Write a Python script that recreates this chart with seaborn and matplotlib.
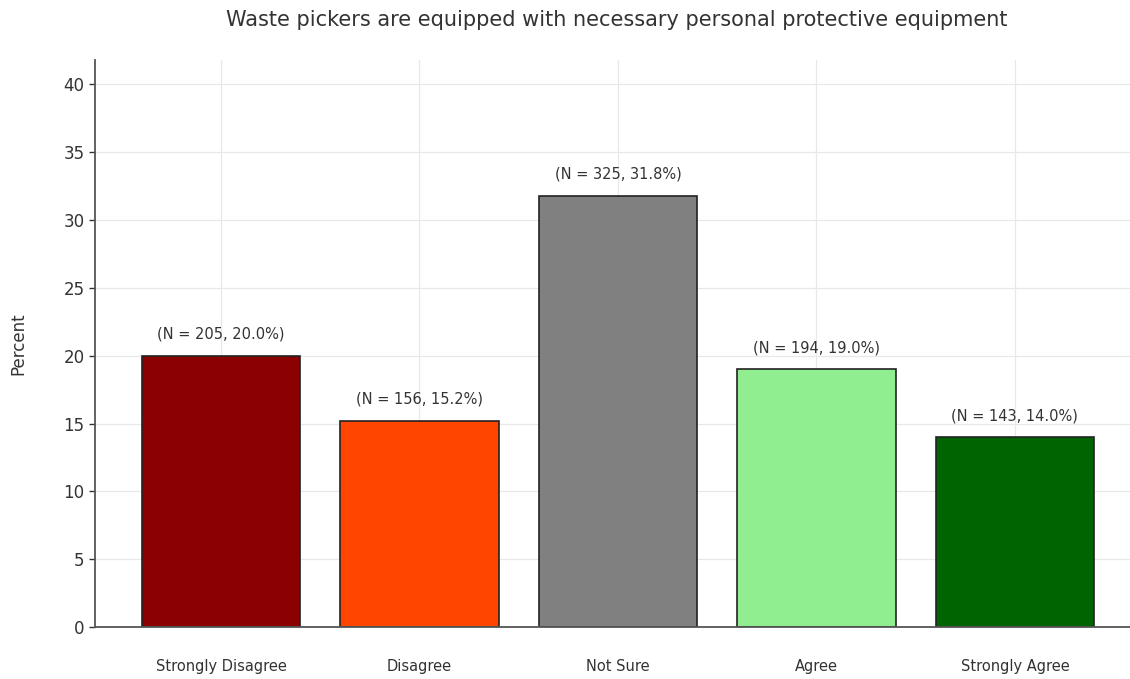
import matplotlib
matplotlib.use("Agg")
import matplotlib.pyplot as plt
import seaborn as sns
import pandas as pd

categories = ["Strongly Disagree", "Disagree", "Not Sure", "Agree", "Strongly Agree"]
counts = [205, 156, 325, 194, 143]
percents = [20.0, 15.2, 31.8, 19.0, 14.0]
colors = ["#8B0000", "#FF4500", "#808080", "#90EE90", "#006400"]

df = pd.DataFrame({"Response": categories, "Percent": percents, "N": counts})

sns.set_theme(style="whitegrid")
plt.rcParams["font.family"] = ["DejaVu Sans"]

fig = plt.figure(figsize=(11.3, 6.79), dpi=100)
ax = fig.add_axes([95 / 1130, 52 / 679, (1130 - 95) / 1130, 567 / 679])

sns.barplot(data=df, x="Response", y="Percent", hue="Response", palette=colors,
            legend=False, width=0.8, edgecolor="#222222", linewidth=1.2,
            saturation=1, ax=ax, zorder=2)

for i, (n, p) in enumerate(zip(counts, percents)):
    ax.annotate(f"(N = {n}, {p:.1f}%)", xy=(i, p), xytext=(0, 10),
                textcoords="offset points", ha="center", va="bottom",
                fontsize=10.5, color="#333333")

ax.set_ylim(0, 41.8)
ax.set_xlim(-0.635, 4.58)
ax.set_yticks(range(0, 41, 5))
ax.grid(True, color="#e8e8e8", linewidth=0.9, zorder=0)
ax.set_axisbelow(True)

for side in ["top", "right"]:
    ax.spines[side].set_visible(False)
for side in ["left", "bottom"]:
    ax.spines[side].set_color("#555555")
    ax.spines[side].set_linewidth(1.3)

ax.tick_params(axis="y", labelsize=12, colors="#333333", length=4, width=1, left=True)
ax.tick_params(axis="x", labelsize=10.5, colors="#333333", length=0, pad=23)

ax.set_xlabel("")
ax.set_ylabel("Percent", fontsize=12, color="#333333", labelpad=26)
fig.text(617 / 1130, 1 - 20 / 679, "Waste pickers are equipped with necessary personal protective equipment",
         ha="center", va="center", fontsize=15, color="#333333")

fig.savefig("out.png", dpi=100)
